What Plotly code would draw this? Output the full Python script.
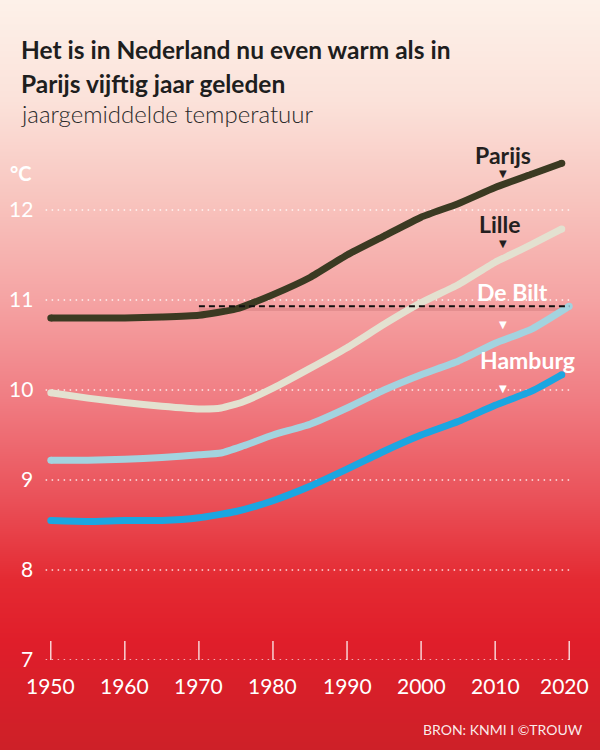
import base64, struct, zlib
import plotly.graph_objects as go

# ---------------- data ----------------
years_parijs = [1950, 1955, 1960, 1965, 1970, 1975, 1980, 1985, 1990, 1995, 2000, 2005, 2010, 2015, 2019]
parijs = [10.80, 10.80, 10.80, 10.81, 10.83, 10.90, 11.06, 11.25, 11.50, 11.71, 11.92, 12.07, 12.25, 12.40, 12.52]

years_lille = [1950, 1955, 1960, 1965, 1970, 1973, 1976, 1980, 1985, 1990, 1995, 2000, 2005, 2010, 2012, 2015, 2019]
lille = [9.97, 9.91, 9.86, 9.82, 9.79, 9.80, 9.87, 10.02, 10.24, 10.47, 10.73, 10.97, 11.17, 11.42, 11.50, 11.62, 11.79]

years_debilt = [1950, 1955, 1960, 1965, 1970, 1973, 1976, 1980, 1985, 1990, 1995, 2000, 2005, 2010, 2015, 2020]
debilt = [9.22, 9.22, 9.23, 9.25, 9.28, 9.30, 9.38, 9.50, 9.62, 9.80, 10.00, 10.17, 10.32, 10.52, 10.68, 10.93]

years_hamburg = [1950, 1955, 1960, 1965, 1970, 1975, 1980, 1985, 1990, 1995, 2000, 2005, 2010, 2015, 2019]
hamburg = [8.55, 8.54, 8.55, 8.55, 8.58, 8.65, 8.77, 8.93, 9.12, 9.32, 9.50, 9.65, 9.83, 9.99, 10.17]

ref_start_year = 1970  # where Parijs reached today's De Bilt level
y_ticks = [7, 8, 9, 10, 11, 12]
x_ticks = [1950, 1960, 1970, 1980, 1990, 2000, 2010, 2020]
label_year = 2011

series = [
    ("Parijs", years_parijs, parijs, "#3b3a22", "#231f20"),
    ("Lille", years_lille, lille, "#e3e1d0", "#231f20"),
    ("De Bilt", years_debilt, debilt, "#a3d3df", "#ffffff"),
    ("Hamburg", years_hamburg, hamburg, "#1ba6e1", "#ffffff"),
]

# ---------------- layout geometry ----------------
W, H = 600, 750
L, R, T, B = 36, 16, 156, 90
PW, PH = W - L - R, H - T - B


def px_x(x):
    return (x - L) / PW


def px_y(y):
    return (H - B - y) / PH


# ---------------- gradient background (PNG data URI) ----------------
stops = [
    (0, (253, 241, 233)),
    (100, (251, 226, 218)),
    (200, (248, 196, 190)),
    (300, (245, 163, 163)),
    (400, (240, 124, 130)),
    (500, (234, 80, 88)),
    (580, (228, 42, 50)),
    (640, (224, 30, 42)),
    (750, (205, 32, 40)),
]


def col_at(y):
    for (y0, c0), (y1, c1) in zip(stops[:-1], stops[1:]):
        if y0 <= y <= y1:
            t = (y - y0) / (y1 - y0)
            return tuple(int(round(a + (b - a) * t)) for a, b in zip(c0, c1))
    return stops[-1][1]


def make_png(w, h):
    raw = b""
    for y in range(h):
        c = col_at(y)
        raw += b"\x00" + bytes(c) * w
    def chunk(tag, data):
        return struct.pack(">I", len(data)) + tag + data + struct.pack(">I", zlib.crc32(tag + data) & 0xffffffff)
    png = b"\x89PNG\r\n\x1a\n"
    png += chunk(b"IHDR", struct.pack(">IIBBBBB", w, h, 8, 2, 0, 0, 0))
    png += chunk(b"IDAT", zlib.compress(raw, 9))
    png += chunk(b"IEND", b"")
    return "data:image/png;base64," + base64.b64encode(png).decode()


bg = make_png(4, H)

fig = go.Figure()

# reference dashed line (soft shadow + dash)
db_now = debilt[-1]
fig.add_trace(go.Scatter(x=[ref_start_year, years_debilt[-1]], y=[db_now - 0.035, db_now - 0.035], mode="lines",
                         line=dict(color="rgba(90,0,0,0.10)", width=3), hoverinfo="skip", showlegend=False))

for name, xs, ys, c, tc in series:
    fig.add_trace(go.Scatter(x=xs, y=ys, mode="lines", line=dict(color=c, width=7, shape="spline", smoothing=0.5),
                             hoverinfo="skip", showlegend=False))
    fig.add_trace(go.Scatter(x=[xs[0], xs[-1]], y=[ys[0], ys[-1]], mode="markers",
                             marker=dict(color=c, size=7, line=dict(width=0)), hoverinfo="skip", showlegend=False))

fig.add_trace(go.Scatter(x=[ref_start_year, years_debilt[-1]], y=[db_now, db_now], mode="lines",
                         line=dict(color="#111111", width=2, dash="6px,4px"), hoverinfo="skip", showlegend=False))

shapes = []
# dotted gridlines
for v in y_ticks:
    shapes.append(dict(type="line", xref="x", yref="y", x0=1949.3, x1=2020.2, y0=v, y1=v,
                       line=dict(color="rgba(255,255,255,0.85)", width=1.5, dash="1.5px,4.5px"), layer="below"))
# x ticks
for xv in x_ticks:
    shapes.append(dict(type="line", xref="x", yref="y", x0=xv, x1=xv, y0=y_ticks[0], y1=y_ticks[0] + 0.21,
                       line=dict(color="white", width=1.2), layer="below"))

annotations = []
FONT = "Lato"
for v in y_ticks:
    annotations.append(dict(x=1950, y=v, xref="x", yref="y", text=str(v), showarrow=False, xanchor="right",
                            xshift=-16, yshift=2, font=dict(family=FONT, size=21, color="white")))
annotations.append(dict(x=px_x(34), y=px_y(173), xref="paper", yref="paper", text="°C", showarrow=False,
                        xanchor="right", yanchor="middle",
                        font=dict(family=FONT, size=20, color="white", weight="bold")))
for xv in x_ticks:
    annotations.append(dict(x=xv, y=y_ticks[0], xref="x", yref="y", text=str(xv), showarrow=False,
                            xshift=-5 if xv == 2020 else 0, yshift=-25,
                            font=dict(family=FONT, size=21, color="white")))

# city labels and triangles
label_pos = {"Parijs": (503, 155, 173), "Lille": (500, 224, 243), "De Bilt": (512, 292, 324),
             "Hamburg": (527, 360, 388)}
for name, xs, ys, c, tc in series:
    lx, ly, ty = label_pos[name]
    annotations.append(dict(x=px_x(lx), y=px_y(ly), xref="paper", yref="paper", text=name, showarrow=False,
                            xanchor="center", yanchor="middle",
                            font=dict(family=FONT, size=23, color=tc, weight="bold")))
    annotations.append(dict(x=label_year, y=px_y(ty), xref="x", yref="paper", text="▼", showarrow=False,
                            xanchor="center", yanchor="middle", font=dict(family="DejaVu Sans", size=10, color=tc)))

# titles
annotations.append(dict(x=px_x(19), y=px_y(49), xref="paper", yref="paper",
                        text="Het is in Nederland nu even warm als in", showarrow=False,
                        xanchor="left", yanchor="middle",
                        font=dict(family=FONT, size=24.5, color="#1e1e1e", weight="bold")))
annotations.append(dict(x=px_x(19), y=px_y(83), xref="paper", yref="paper",
                        text="Parijs vijftig jaar geleden", showarrow=False,
                        xanchor="left", yanchor="middle",
                        font=dict(family=FONT, size=24.5, color="#1e1e1e", weight="bold")))
annotations.append(dict(x=px_x(19), y=px_y(113), xref="paper", yref="paper",
                        text="jaargemiddelde temperatuur", showarrow=False,
                        xanchor="left", yanchor="middle",
                        font=dict(family=FONT, size=24, color="#2a2a2a", weight=300)))
annotations.append(dict(x=px_x(585), y=px_y(729), xref="paper", yref="paper",
                        text="BRON: KNMI I ©TROUW", showarrow=False,
                        xanchor="right", yanchor="middle",
                        font=dict(family=FONT, size=14, color="rgba(255,255,255,0.92)")))

fig.update_layout(
    width=W, height=H,
    margin=dict(l=L, r=R, t=T, b=B, pad=0),
    paper_bgcolor="rgba(0,0,0,0)", plot_bgcolor="rgba(0,0,0,0)",
    xaxis=dict(range=[1948, 2022], visible=False, fixedrange=True),
    yaxis=dict(range=[7, 12.6], visible=False, fixedrange=True),
    shapes=shapes, annotations=annotations,
    images=[dict(source=bg, xref="paper", yref="paper", x=px_x(0), y=px_y(0), sizex=W / PW, sizey=H / PH,
                 xanchor="left", yanchor="top", sizing="stretch", layer="below")],
    showlegend=False,
)

fig.write_html("out.html", config={"displayModeBar": False})
